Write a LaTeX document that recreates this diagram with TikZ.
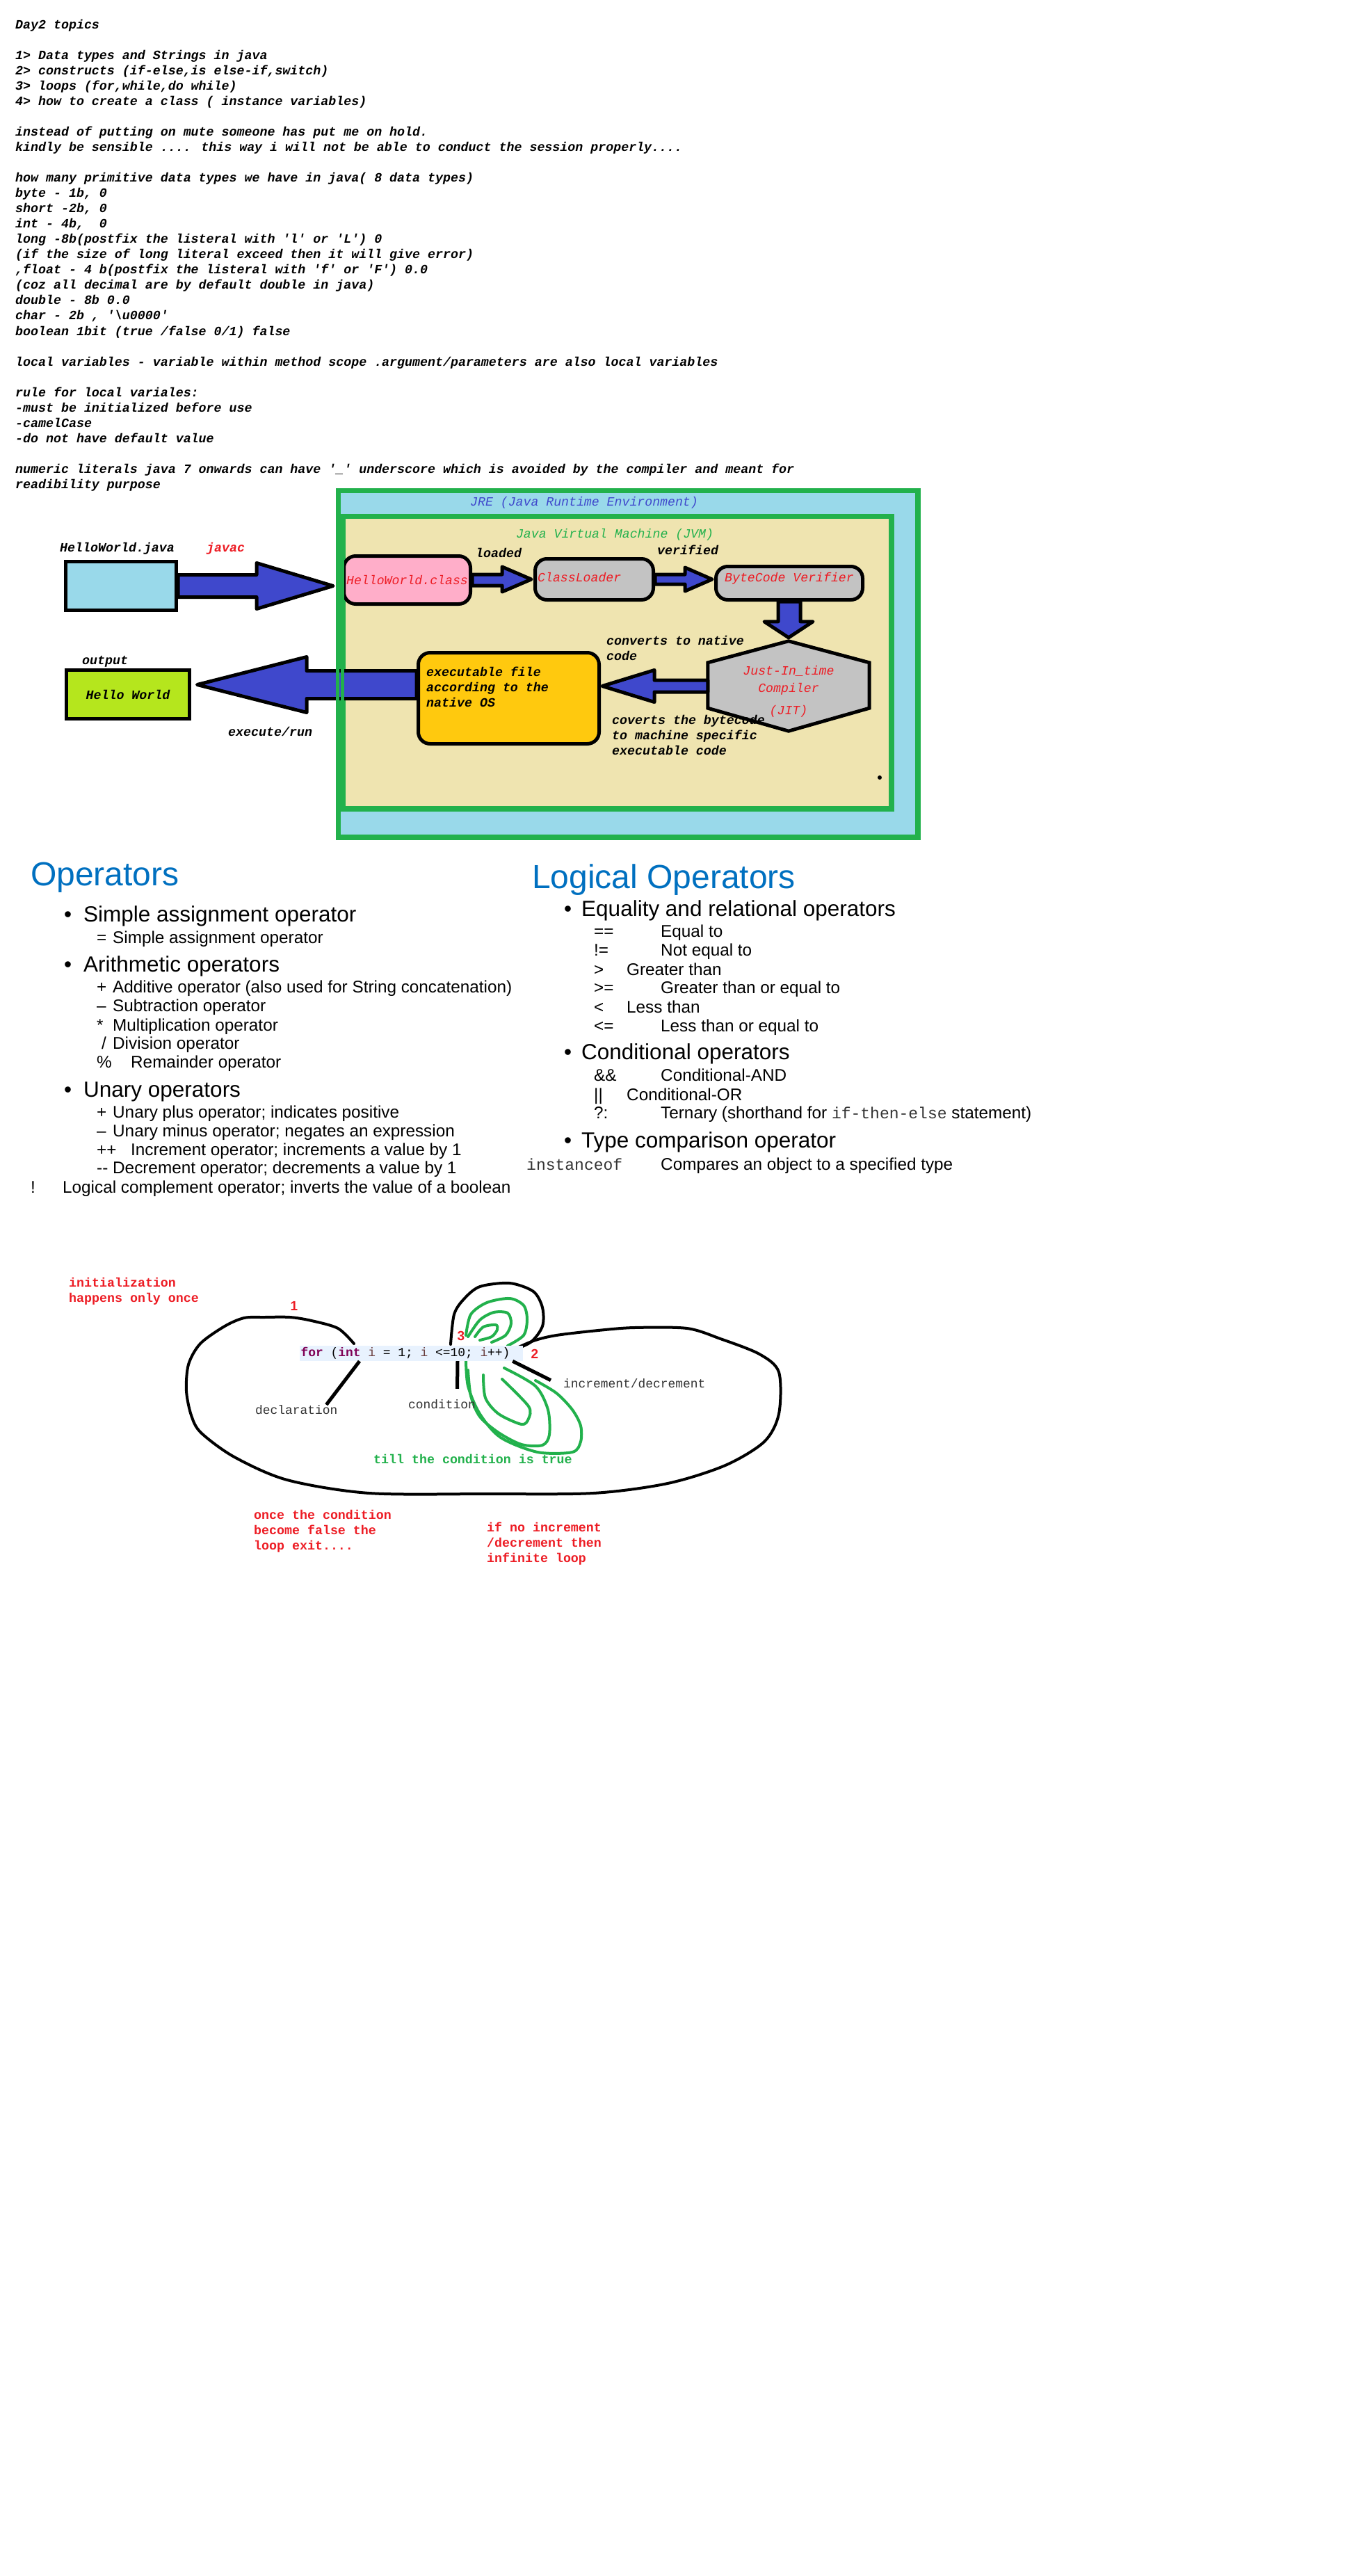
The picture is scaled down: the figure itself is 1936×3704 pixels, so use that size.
\documentclass[tikz,border=0pt]{standalone}
\usepackage{fontspec}
\setmainfont{Liberation Sans}
\newfontfamily\notefont{Liberation Mono}[Ligatures=TeXOff]
\usepackage{tikz}
\usetikzlibrary{calc}
\usepackage{xcolor}
\definecolor{jreblue}{HTML}{99D9EA}
\definecolor{paintgreen}{HTML}{22B14C}
\definecolor{wheatfill}{HTML}{EFE4B0}
\definecolor{pinkfill}{HTML}{FFAEC9}
\definecolor{grayfill}{HTML}{C3C3C3}
\definecolor{goldfill}{HTML}{FFC90E}
\definecolor{limefill}{HTML}{B5E61D}
\definecolor{arrowblue}{HTML}{3F48CC}
\definecolor{paintred}{HTML}{ED1C24}
\definecolor{slideblue}{HTML}{0070C0}
\definecolor{kwpurple}{HTML}{7F0055}
\definecolor{varbrown}{HTML}{6A3E3E}
\definecolor{codebg}{HTML}{E8F2FE}
\definecolor{darktext}{HTML}{333333}
\tikzset{
  notes/.style={font=\notefont\bfseries\itshape\fontsize{18.3}{22.04}\selectfont, inner sep=0pt, align=left},
  rednotes/.style={font=\notefont\bfseries\fontsize{18.3}{22.04}\selectfont, text=paintred, inner sep=0pt, align=left},
  boxlabel/.style={font=\notefont\itshape\fontsize{18.2}{22}\selectfont, text=paintred},
  codetext/.style={font=\notefont\fontsize{17.9}{22}\selectfont},
  paintbox/.style={draw=black, line width=5pt, inner sep=0pt},
  roundbox/.style={paintbox, rounded corners=17pt, fill=grayfill},
  blockarrow/.style={draw=black, line width=5pt, fill=arrowblue, line join=round},
  jreline/.style={draw=paintgreen, line width=5pt},
  sketch/.style={line width=4pt, line cap=round, line join=round},
  ophead/.style={font=\fontsize{48}{52}\selectfont, text=slideblue, anchor=base west, inner sep=0pt},
  opitem/.style={font=\fontsize{31.5}{36}\selectfont, anchor=base west, inner sep=0pt},
  opsub/.style={font=\fontsize{24.3}{28}\selectfont, anchor=base west, inner sep=0pt},
  digit/.style={font=\bfseries\fontsize{19}{22}\selectfont, text=paintred}
}

\begin{document}
\begin{tikzpicture}[x=1pt, y=-1pt]
  \useasboundingbox (0,0) rectangle (1936,3704);
  \fill[white] (0,0) rectangle (1936,3704);

  % day 2 notes
  \node[notes, anchor=north west] (topics) at (22,25.6) {\strut Day2 topics\\[22.04pt]
    1> Data types and Strings in java\\
    2> constructs (if-else,is else-if,switch)\\
    3> loops (for,while,do while)\\
    4> how to create a class ( instance variables)\\[22.04pt]
    instead of putting on mute someone has put me on hold.\\
    kindly be sensible .... this way i will not be able to conduct the session properly....\\[22.04pt]
    how many primitive data types we have in java( 8 data types)\\
    byte - 1b, 0\\
    short -2b, 0\\
    int - 4b,~ 0\\
    long -8b(postfix the listeral with 'l' or 'L') 0\\
    (if the size of long literal exceed then it will give error)\\
    ,float - 4 b(postfix the listeral with 'f' or 'F') 0.0\\
    (coz all decimal are by default double in java)\\
    double - 8b 0.0\\
    char - 2b , '\textbackslash u0000'\\
    boolean 1bit (true /false 0/1) false\\[22.04pt]
    local variables - variable within method scope .argument/parameters are also local variables\\[22.04pt]
    rule for local variales:\\
    -must be initialized before use\\
    -camelCase\\
    -do not have default value\\[22.04pt]
    numeric literals java 7 onwards can have '\_' underscore which is avoided by the compiler and meant for\\
    readibility purpose};

  % JRE and JVM
  \node[paintbox, draw=paintgreen, fill=jreblue, minimum width=831pt, minimum height=496pt] (jre) at (903,954.5) {};
  \node[paintbox, draw=paintgreen, fill=wheatfill, minimum width=786pt, minimum height=418pt] (jvm) at (887.5,952.5) {};
  \node[boxlabel, text=arrowblue, anchor=base] (jrelabel) at (840,727) {JRE (Java Runtime Environment)};
  \node[boxlabel, text=paintgreen, anchor=base] (jvmlabel) at (884,773) {Java Virtual Machine (JVM)};

  \node[paintbox, fill=jreblue, minimum width=159pt, minimum height=70pt] (java) at (174,842.5) {};
  \node[notes, anchor=base west] (javaname) at (86,793) {HelloWorld.java};
  \node[notes, anchor=base west, text=paintred] (javac) at (297,793) {javac};
  \node[roundbox, fill=pinkfill, minimum width=182pt, minimum height=69pt, boxlabel] (cls) at (585.5,834) {HelloWorld.class};
  \node[notes, anchor=base west] (loaded) at (684,801) {loaded};
  \node[roundbox, minimum width=170pt, minimum height=59pt] (loader) at (854.5,833) {};
  \node[boxlabel, anchor=base west, inner sep=0pt] (loadername) at (773,836) {ClassLoader};
  \node[notes, anchor=base west] (verified) at (945,797) {verified};
  \node[roundbox, minimum width=211pt, minimum height=48pt] (verif) at (1135,838.5) {};
  \node[boxlabel, anchor=base, inner sep=0pt] (verifname) at (verif.center |- 0,836) {ByteCode Verifier};

  \node[minimum width=232pt, minimum height=129pt, inner sep=0pt] (jit) at (1134,986.5) {};
  \draw[paintbox, fill=grayfill] (jit.north) -- ($(jit.north east)+(0,31)$) -- ($(jit.south east)+(0,-33)$)
    -- (jit.south) -- ($(jit.south west)+(0,-33)$) -- ($(jit.north west)+(0,31)$) -- cycle;
  \node[boxlabel, align=center, anchor=north] (jitname) at (1134,951.6) {\strut Just-In\_time\\[3pt]Compiler\\[10pt](JIT)};

  \node[roundbox, fill=goldfill, minimum width=260pt, minimum height=131pt] (exec) at (731.5,1004) {};
  \node[notes, anchor=north west] (exectext) at (613,956.6) {\strut executable file\\according to the\\native OS};
  \node[notes, anchor=north west] (native) at (872,911.6) {\strut converts to native\\code};
  \node[notes, anchor=north west] (machine) at (880,1025.6) {\strut coverts the bytecode\\to machine specific\\executable code};

  \node[paintbox, fill=limefill, minimum width=177pt, minimum height=70pt, notes] (hello) at (184,998.5) {Hello World};
  \node[notes, anchor=base west] (output) at (118,955) {output};
  \node[notes, anchor=base west] (run) at (328,1058) {execute/run};

  % block arrows
  \draw[blockarrow] ($(java.east)+(0,-16)$) -| ($(cls.west|-java.east)+(-123,-33)$) -- ($(cls.west|-java.east)+(-13,0)$)
    -- ($(cls.west|-java.east)+(-123,33)$) |- ($(java.east)+(0,16)$) -- cycle;
  \draw[blockarrow] ($(cls.east)+(0,-8)$) -| ($(loader.west)+(-45,-18)$) -- ($(loader.west)+(-3,0)$)
    -- ($(loader.west)+(-45,18)$) |- ($(cls.east)+(0,8)$) -- cycle;
  \draw[blockarrow] ($(loader.east)+(0,-7)$) -| ($(verif.west|-loader.east)+(-42,-17)$) -- ($(verif.west|-loader.east)+(-3,0)$)
    -- ($(verif.west|-loader.east)+(-42,17)$) |- ($(loader.east)+(0,7)$) -- cycle;
  \draw[blockarrow] ($(verif.south)+(-16,0)$) |- ($(jit.north)+(-35,-28)$) -- ($(jit.north)+(0,-5)$)
    -- ($(jit.north)+(35,-28)$) -| ($(verif.south)+(16,0)$) -- cycle;
  \draw[blockarrow] ($(jit.west)+(0,-8.5)$) -| ($(exec.east|-jit.west)+(77,-23)$) -- ($(exec.east|-jit.west)+(2,0)$)
    -- ($(exec.east|-jit.west)+(77,23)$) |- ($(jit.west)+(0,8.5)$) -- cycle;
  \coordinate (m6) at ($(exec.west)+(0,-19.5)$);
  \draw[blockarrow] ($(m6)+(0,-20)$) -| ($(hello.east|-m6)+(166,-40)$) -- ($(hello.east|-m6)+(8.5,0)$)
    -- ($(hello.east|-m6)+(166,40)$) |- ($(m6)+(0,20)$) -- cycle;
  \draw[jreline] (jre.north west) rectangle (jre.south east);
  \draw[jreline] (jvm.north west) rectangle (jvm.south east);
  \fill (1265,1118) circle (3pt);

  % operators
  \node[ophead] (ops) at (44,1273) {Operators};
  \node[opitem] (dot1) at (92,1325) {•};
  \node[opitem] (assign) at (120,1325) {Simple assignment operator};
  \node[opsub] (eqsym) at (139,1356) {=};
  \node[opsub] (eqtxt) at (162,1356) {Simple assignment operator};
  \node[opitem] (dot2) at (92,1397) {•};
  \node[opitem] (arith) at (120,1397) {Arithmetic operators};
  \node[opsub] (addsym) at (139,1427) {+};
  \node[opsub] (addtxt) at (162,1427) {Additive operator (also used for String concatenation)};
  \node[opsub] (subsym) at (139,1454) {–};
  \node[opsub] (subtxt) at (162,1454) {Subtraction operator};
  \node[opsub] (mulsym) at (139,1482) {*};
  \node[opsub] (multxt) at (162,1482) {Multiplication operator};
  \node[opsub] (divsym) at (146,1508) {/};
  \node[opsub] (divtxt) at (162,1508) {Division operator};
  \node[opsub] (remsym) at (139,1535) {\%};
  \node[opsub] (remtxt) at (188,1535) {Remainder operator};
  \node[opitem] (dot3) at (92,1577) {•};
  \node[opitem] (unary) at (120,1577) {Unary operators};
  \node[opsub] (plussym) at (139,1607) {+};
  \node[opsub] (plustxt) at (162,1607) {Unary plus operator; indicates positive};
  \node[opsub] (minussym) at (139,1634) {–};
  \node[opsub] (minustxt) at (162,1634) {Unary minus operator; negates an expression};
  \node[opsub] (incsym) at (139,1661) {++};
  \node[opsub] (inctxt) at (188,1661) {Increment operator; increments a value by 1};
  \node[opsub] (decsym) at (139,1687) {-{}-};
  \node[opsub] (dectxt) at (162,1687) {Decrement operator; decrements a value by 1};
  \node[opsub] (notsym) at (44,1715) {!};
  \node[opsub] (nottxt) at (90,1715) {Logical complement operator; inverts the value of a boolean};

  % logical operators
  \node[ophead] (logops) at (765,1277) {Logical Operators};
  \node[opitem] (dot4) at (811,1317) {•};
  \node[opitem] (equality) at (836,1317) {Equality and relational operators};
  \node[opsub] (eqeq) at (854,1347) {==};
  \node[opsub] (eqeqtxt) at (950,1347) {Equal to};
  \node[opsub] (neq) at (854,1374) {!=};
  \node[opsub] (neqtxt) at (950,1374) {Not equal to};
  \node[opsub] (gt) at (854,1402) {>};
  \node[opsub] (gttxt) at (901,1402) {Greater than};
  \node[opsub] (ge) at (854,1428) {>=};
  \node[opsub] (getxt) at (950,1428) {Greater than or equal to};
  \node[opsub] (lt) at (854,1456) {<};
  \node[opsub] (lttxt) at (901,1456) {Less than};
  \node[opsub] (le) at (854,1483) {<=};
  \node[opsub] (letxt) at (950,1483) {Less than or equal to};
  \node[opitem] (dot5) at (811,1523) {•};
  \node[opitem] (condops) at (836,1523) {Conditional operators};
  \node[opsub] (andsym) at (854,1554) {\&\&};
  \node[opsub] (andtxt) at (950,1554) {Conditional-AND};
  \node[opsub] (orsym) at (854,1582) {||};
  \node[opsub] (ortxt) at (901,1582) {Conditional-OR};
  \node[opsub] (ternsym) at (854,1608) {?:};
  \node[opsub] (terntxt) at (950,1608) {Ternary (shorthand for {\notefont\fontsize{23}{27}\selectfont\color{darktext}if-then-else} statement)};
  \node[opitem] (dot6) at (811,1650) {•};
  \node[opitem] (typecmp) at (836,1650) {Type comparison operator};
  \node[opsub, font=\notefont\fontsize{23}{27}\selectfont, text=darktext] (instof) at (757,1682) {instanceof};
  \node[opsub] (instoftxt) at (950,1682) {Compares an object to a specified type};

  % for loop sketch
  \node[rednotes, anchor=north west] (init) at (99,1834.6) {\strut initialization\\happens only once};
  \draw[sketch] plot[smooth] coordinates {(509,1932) (486,1910) (448,1899) (417,1894) (380,1894) (351,1895)
    (323,1907) (288,1932) (271,1962) (268,2000) (275,2035) (289,2060) (337,2095) (413,2128) (531,2147)
    (700,2148) (853,2147) (960,2133) (1043,2107) (1099,2073) (1120,2033) (1120,1973) (1092,1947)
    (1036,1925) (988,1910) (912,1909) (860,1913) (800,1920) (767,1928) (733,1943)};
  \draw[sketch] plot[smooth] coordinates {(648,1933) (653,1890) (667,1868) (690,1850) (733,1845) (767,1857)
    (780,1880) (780,1907) (763,1930) (733,1943)};
  \draw[sketch, paintgreen] plot[smooth] coordinates {(670,1920) (677,1890) (700,1873) (733,1867) (753,1877)
    (758,1897) (753,1920) (730,1935)};
  \draw[sketch, paintgreen] plot[smooth] coordinates {(673,1922) (690,1898) (710,1887) (730,1888) (735,1903)
    (727,1920) (707,1930)};
  \draw[sketch, paintgreen] plot[smooth] coordinates {(683,1922) (695,1908) (713,1905) (715,1912) (707,1922)
    (690,1927)};
  \draw[sketch, paintgreen] plot[smooth] coordinates {(670,1955) (673,1993) (690,2033) (720,2067) (773,2088)
    (823,2088) (835,2073) (835,2050) (823,2027) (800,2003) (770,1985)};
  \draw[sketch, paintgreen] plot[smooth] coordinates {(673,1970) (677,2007) (690,2037) (717,2060) (750,2077)
    (780,2078) (790,2063) (788,2027) (770,1993) (725,1967)};
  \draw[sketch, paintgreen] plot[smooth] coordinates {(695,1977) (698,2010) (717,2033) (750,2048) (760,2040)
    (760,2022) (722,1983)};

  \node[codetext, fill=codebg, inner xsep=1.5pt, inner ysep=0pt, minimum height=22pt, anchor=west] (code) at (431,1946)
    {{\bfseries\color{kwpurple}for} ({\bfseries\color{kwpurple}int} {\color{varbrown}i} = 1; {\color{varbrown}i} <=10; {\color{varbrown}i}++)\hspace*{17pt}};
  \node[digit] (one) at (423,1878) {1};
  \node[digit] (three) at (663,1921) {3};
  \node[digit] (two) at (769,1947) {2};

  \node[codetext, text=darktext, anchor=base west, inner sep=0pt] (decl) at (367,2033) {declaration};
  \node[codetext, text=darktext, anchor=base west, inner sep=0pt] (cond) at (587,2025) {condition};
  \node[codetext, text=darktext, anchor=base west, inner sep=0pt] (incdec) at (810,1995) {increment/decrement};
  \draw[line width=5pt] ($(code.south west)+(86,0)$) -- ($(decl.north)+(43,0)$);
  \draw[line width=5pt] ($(code.south west)+(227,0)$) -- ($(cond.north)+(22,-15)$);
  \draw[line width=5pt] ($(code.south east)+(-15,0)$) -- ($(incdec.west)+(-18,-4)$);

  \node[rednotes, text=paintgreen, anchor=base west] (tillnote) at (537,2104) {till the condition is true};
  \node[rednotes, anchor=north west] (exitnote) at (365,2168.6) {\strut once the condition\\become false the\\loop exit....};
  \node[rednotes, anchor=north west] (infnote) at (700,2186.6) {\strut if no increment\\/decrement then\\infinite loop};
\end{tikzpicture}
\end{document}
